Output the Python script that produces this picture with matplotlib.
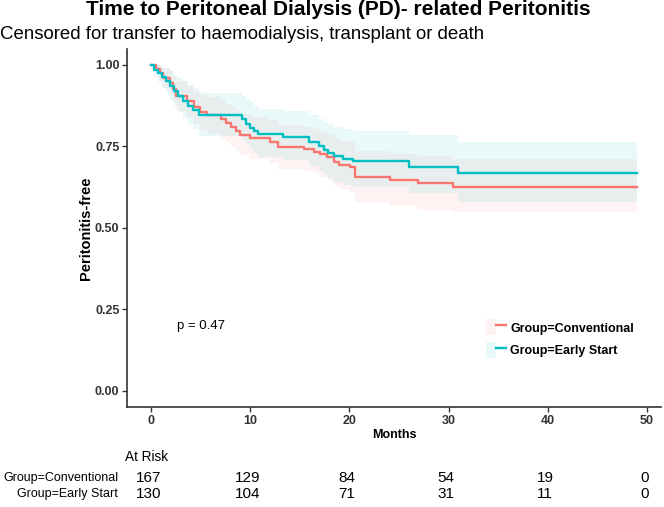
import matplotlib
matplotlib.use("Agg")
import matplotlib.pyplot as plt
from matplotlib.lines import Line2D
from matplotlib.patches import Patch
from matplotlib.legend_handler import HandlerTuple
import matplotlib.transforms as mtransforms

plt.rcParams['font.family'] = ['Liberation Sans', 'DejaVu Sans']

# ---- data ----
groups = ["Group=Conventional", "Group=Early Start"]
colors = ["#F8766D", "#00BFC4"]

cv_time = [0, 0.5, 0.9, 1.2, 1.9, 2.2, 2.5, 3.6, 4.3, 4.9, 5.6, 7.0, 7.5, 8.0, 8.5, 9.0, 10.0, 12.0, 12.8,
           15.4, 16.4, 17.0, 17.7, 18.4, 18.9, 20.1, 20.6, 24.1, 26.9, 30.5]
cv_surv = [1.0, 0.988, 0.975, 0.960, 0.945, 0.925, 0.905, 0.888, 0.870, 0.855, 0.845, 0.834, 0.822, 0.810,
           0.797, 0.786, 0.776, 0.765, 0.749, 0.742, 0.734, 0.726, 0.717, 0.703, 0.693, 0.686, 0.657, 0.648,
           0.638, 0.626]
cv_upper = [1.0, 1.0, 0.998, 0.99, 0.98, 0.965, 0.95, 0.936, 0.921, 0.909, 0.901, 0.891, 0.881, 0.871, 0.859,
            0.849, 0.840, 0.831, 0.817, 0.811, 0.804, 0.797, 0.789, 0.777, 0.768, 0.762, 0.736, 0.728, 0.720,
            0.710]
cv_lower = [1.0, 0.971, 0.951, 0.930, 0.910, 0.885, 0.860, 0.840, 0.819, 0.801, 0.789, 0.777, 0.763, 0.749,
            0.735, 0.723, 0.712, 0.699, 0.681, 0.673, 0.664, 0.655, 0.645, 0.629, 0.618, 0.610, 0.578, 0.568,
            0.556, 0.548]
cv_end = 49.0

es_time = [0, 0.3, 0.7, 1.1, 1.5, 1.9, 2.3, 2.7, 3.2, 3.7, 4.2, 4.8, 9.2, 9.6, 10.0, 10.4, 10.8, 13.3, 15.9,
           16.9, 17.4, 17.8, 18.4, 19.4, 20.4, 26.0, 31.0]
es_surv = [1.0, 0.985, 0.975, 0.962, 0.950, 0.935, 0.920, 0.905, 0.890, 0.875, 0.862, 0.845, 0.833, 0.820,
           0.808, 0.797, 0.787, 0.778, 0.762, 0.750, 0.739, 0.730, 0.720, 0.712, 0.705, 0.688, 0.668]
es_upper = [1.0, 1.0, 1.0, 0.995, 0.99, 0.98, 0.97, 0.96, 0.95, 0.94, 0.93, 0.915, 0.905, 0.895, 0.885, 0.875,
            0.866, 0.858, 0.845, 0.835, 0.826, 0.818, 0.81, 0.803, 0.797, 0.785, 0.765]
es_lower = [1.0, 0.964, 0.949, 0.930, 0.913, 0.893, 0.874, 0.855, 0.837, 0.819, 0.803, 0.783, 0.77, 0.755,
            0.741, 0.729, 0.717, 0.707, 0.689, 0.675, 0.663, 0.653, 0.641, 0.632, 0.624, 0.606, 0.580]
es_end = 49.0

risk_times = [0, 10, 20, 30, 40, 50]
risk_cv = [167, 129, 84, 54, 19, 0]
risk_es = [130, 104, 71, 31, 11, 0]

x_ticks = [0, 10, 20, 30, 40, 50]
y_ticks = [0.00, 0.25, 0.50, 0.75, 1.00]
p_text = "p = 0.47"

# ---- figure ----
fig = plt.figure(figsize=(6.64, 5.07), dpi=100)
ax = fig.add_axes([0.1913, 0.1972, 0.8042, 0.7068])

series = [(cv_time, cv_surv, cv_lower, cv_upper, cv_end),
          (es_time, es_surv, es_lower, es_upper, es_end)]
band_alpha = 0.085
for (t, s, lo, up, end), col in zip(series, colors):
    tt = list(t) + [end]
    ll = list(lo) + [lo[-1]]
    uu = list(up) + [up[-1]]
    ax.fill_between(tt, ll, uu, step='post', color=col, alpha=band_alpha, linewidth=0)
for (t, s, lo, up, end), col in zip(series, colors):
    tt = list(t) + [end]
    ss = list(s) + [s[-1]]
    ax.step(tt, ss, where='post', color=col, linewidth=1.7)

ax.set_xlim(-2.45, 51.45)
ax.set_ylim(-0.05, 1.05)
ax.set_xticks(x_ticks)
ax.set_yticks(y_ticks)
ax.set_yticklabels([f"{v:.2f}" for v in y_ticks])
for sp in ['top', 'right']:
    ax.spines[sp].set_visible(False)
for sp in ['left', 'bottom']:
    ax.spines[sp].set_linewidth(1.2)
    ax.spines[sp].set_color('#333333')
ax.tick_params(axis='both', direction='out', length=3.5, width=1, color='#333333',
               labelsize=9, labelcolor='#333333', pad=2)
for lab in ax.get_xticklabels() + ax.get_yticklabels():
    lab.set_fontweight('bold')

ax.set_xlabel("Months", fontsize=9, fontweight='bold', labelpad=2)
ax.set_ylabel("Peritonitis-free", fontsize=10.5, fontweight='bold', labelpad=1)

ax.text(2.6, 0.2, p_text, fontsize=9.5, ha='left', va='center')

handles = []
for col in colors:
    handles.append((Patch(facecolor=col, alpha=band_alpha, edgecolor='none'),
                    Line2D([], [], color=col, linewidth=1.7)))
leg = ax.legend(handles, groups, handler_map={tuple: HandlerTuple(ndivide=None, pad=0)},
                loc='center left', bbox_to_anchor=(0.66, 0.191), frameon=False,
                prop={'weight': 'bold', 'size': 9}, handlelength=1.6, handleheight=1.6,
                labelspacing=0.5, handletextpad=0.35, borderpad=0)

# titles
fig.text(0.509, 0.981, "Time to Peritoneal Dialysis (PD)- related Peritonitis", fontsize=15,
         fontweight='bold', ha='center', va='center')
fig.text(0.0, 0.931, "Censored for transfer to haemodialysis, transplant or death", fontsize=13.4,
         ha='left', va='center')

# risk table
narrow = ['Liberation Sans Narrow', 'Liberation Sans', 'DejaVu Sans']
trans = mtransforms.blended_transform_factory(ax.transData, fig.transFigure)
fig.text(125 / 664, 1 - 457 / 507, "At Risk", fontsize=9.8, family=narrow, ha='left', va='center')
for row, (name, vals) in enumerate(zip(groups, [risk_cv, risk_es])):
    yy = 1 - (478 + 16 * row) / 507
    fig.text(118 / 664, yy, name, fontsize=9, family=narrow, ha='right', va='center')
    for tm, v in zip(risk_times, vals):
        fig.text(tm - 0.25, yy, str(v), fontsize=11, family=narrow, ha='center', va='center',
                 transform=trans)

fig.savefig("out.png", dpi=100)
